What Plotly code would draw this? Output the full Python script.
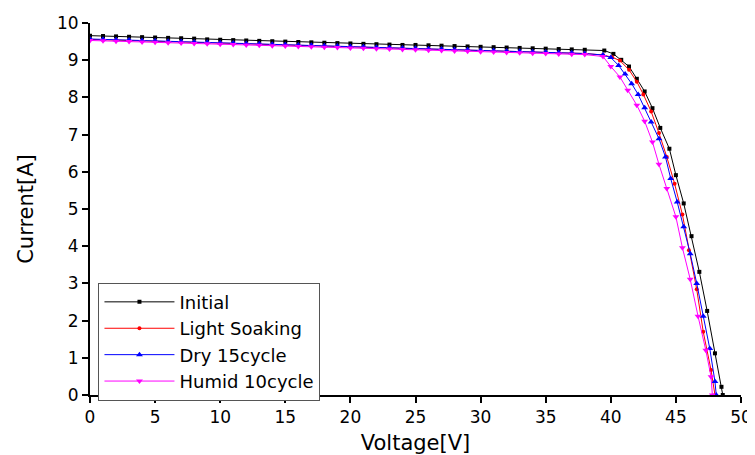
import plotly.graph_objects as go

# ---- data ----
flat_v = list(range(0, 39))  # 0..38 V

initial_flat = [9.66, 9.65, 9.64, 9.63, 9.62, 9.61, 9.60, 9.59, 9.58, 9.56,
                9.55, 9.54, 9.53, 9.52, 9.51, 9.50, 9.49, 9.48, 9.47, 9.46,
                9.45, 9.44, 9.43, 9.42, 9.41, 9.41, 9.40, 9.39, 9.38, 9.37,
                9.36, 9.35, 9.34, 9.33, 9.32, 9.31, 9.30, 9.29, 9.28]
initial_knee_v = [39.5, 40.2, 40.8, 41.4, 42.0, 42.6, 43.2, 43.8, 44.5, 45.0,
                  45.6, 46.2, 46.8, 47.4, 48.0, 48.5, 48.6]
initial_knee_i = [9.26, 9.17, 9.01, 8.83, 8.50, 8.16, 7.71, 7.18, 6.62, 5.91,
                  5.15, 4.27, 3.31, 2.26, 1.12, 0.22, 0.0]

light_flat = [9.56, 9.55, 9.54, 9.53, 9.52, 9.51, 9.50, 9.49, 9.48, 9.47,
              9.46, 9.45, 9.44, 9.43, 9.42, 9.41, 9.40, 9.39, 9.38, 9.37,
              9.36, 9.35, 9.34, 9.33, 9.32, 9.31, 9.30, 9.29, 9.28, 9.27,
              9.26, 9.25, 9.24, 9.23, 9.22, 9.21, 9.20, 9.19, 9.18]
light_knee_v = [39.4, 40.1, 40.7, 41.4, 42.0, 42.5, 43.1, 43.7, 44.3, 44.9,
                45.5, 46.0, 46.6, 47.1, 47.7, 48.0]
light_knee_i = [9.14, 9.08, 8.99, 8.74, 8.42, 8.08, 7.62, 7.04, 6.40, 5.68,
                4.85, 3.89, 2.84, 1.70, 0.67, 0.0]

dry_flat = [9.57, 9.56, 9.55, 9.54, 9.53, 9.52, 9.51, 9.50, 9.49, 9.48,
            9.47, 9.46, 9.45, 9.44, 9.43, 9.42, 9.41, 9.40, 9.39, 9.38,
            9.37, 9.36, 9.35, 9.34, 9.33, 9.32, 9.31, 9.30, 9.29, 9.28,
            9.27, 9.26, 9.25, 9.24, 9.23, 9.22, 9.21, 9.20, 9.18]
dry_knee_v = [39.4, 40.0, 40.6, 41.1, 41.6, 42.1, 42.6, 43.1, 43.7, 44.2,
              44.6, 45.1, 45.6, 46.1, 46.6, 47.1, 47.6, 48.0, 48.1]
dry_knee_i = [9.14, 9.07, 8.86, 8.63, 8.37, 8.08, 7.72, 7.34, 6.89, 6.40,
              5.82, 5.19, 4.52, 3.80, 3.00, 2.12, 1.25, 0.36, 0.0]

humid_flat = [9.53, 9.52, 9.51, 9.50, 9.49, 9.48, 9.47, 9.46, 9.45, 9.44,
              9.43, 9.42, 9.41, 9.40, 9.39, 9.38, 9.37, 9.36, 9.35, 9.34,
              9.33, 9.32, 9.31, 9.30, 9.29, 9.28, 9.27, 9.26, 9.25, 9.24,
              9.23, 9.22, 9.21, 9.20, 9.19, 9.18, 9.17, 9.16, 9.15]
humid_knee_v = [39.4, 40.0, 40.7, 41.3, 42.0, 42.6, 43.2, 43.7, 44.3, 45.0,
                45.5, 46.1, 46.7, 47.3, 47.7, 47.8]
humid_knee_i = [9.10, 8.83, 8.55, 8.19, 7.79, 7.36, 6.80, 6.20, 5.55, 4.79,
                3.96, 3.11, 2.12, 1.20, 0.49, 0.0]

series_names = ["Initial", "Light Soaking", "Dry 15cycle", "Humid 10cycle"]
series_colors = ["#000000", "#ff0000", "#0000ff", "#ff00ff"]
series_symbols = ["square", "circle", "triangle-up", "triangle-down"]
series_sizes = [4, 4, 6, 6]

flats = [initial_flat, light_flat, dry_flat, humid_flat]
knee_vs = [initial_knee_v, light_knee_v, dry_knee_v, humid_knee_v]
knee_is = [initial_knee_i, light_knee_i, dry_knee_i, humid_knee_i]

x_ticks = [0, 5, 10, 15, 20, 25, 30, 35, 40, 45, 50]
y_ticks = [0, 1, 2, 3, 4, 5, 6, 7, 8, 9, 10]

fig = go.Figure()
for name, col, sym, sz, fl, kv, ki in zip(series_names, series_colors, series_symbols,
                                          series_sizes, flats, knee_vs, knee_is):
    fig.add_trace(go.Scatter(
        x=flat_v + kv, y=fl + ki, mode="lines+markers", name=name,
        line=dict(color=col, width=1),
        marker=dict(symbol=sym, size=sz, color=col),
    ))

font = "DejaVu Sans, Arial, sans-serif"
fig.update_layout(
    width=747, height=447,
    margin=dict(l=82, r=14, t=15, b=60, autoexpand=False),
    plot_bgcolor="white", paper_bgcolor="white",
    font=dict(family=font, size=17, color="black"),
    showlegend=True,
    legend=dict(x=0.013, y=0.302, xanchor="left", yanchor="top",
                bordercolor="#555555", borderwidth=1, bgcolor="white",
                font=dict(size=18, family=font), tracegroupgap=0,
                itemwidth=70),
    xaxis=dict(range=[0, 50], tickvals=x_ticks, ticks="outside", ticklen=6,
               tickwidth=2, tickcolor="black", showline=True, linewidth=2,
               linecolor="black", showgrid=False, zeroline=False,
               automargin=False,
               title=dict(text="Voltage[V]", font=dict(size=21), standoff=14),
               tickfont=dict(size=17)),
    yaxis=dict(range=[0, 10], tickvals=y_ticks, ticks="outside", ticklen=6,
               tickwidth=2, tickcolor="black", showline=True, linewidth=2,
               linecolor="black", showgrid=False, zeroline=False,
               automargin=False,
               title=dict(text="Current[A]", font=dict(size=21), standoff=18),
               tickfont=dict(size=17)),
)
fig.write_html("out.html")
